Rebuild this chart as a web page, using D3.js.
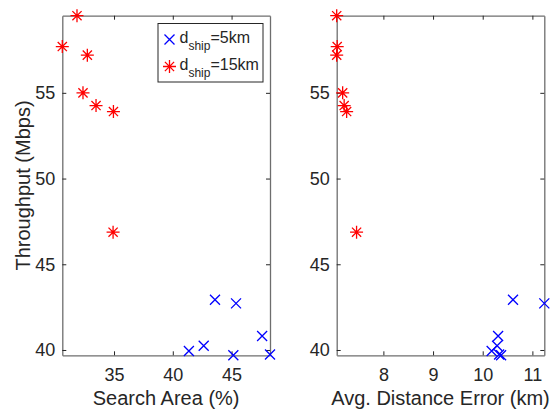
<!DOCTYPE html>
<html>
<head>
<meta charset="utf-8">
<script src="https://cdn.jsdelivr.net/npm/d3@7"></script>
<style>
  body { margin: 0; background: #fff; }
  text { font-family: "Liberation Sans", Arial, Helvetica, sans-serif; fill: #262626; }
</style>
</head>
<body>
<script>
// Global variable
const w = 554;
const h = 411;

// d_ship = 5km
const searchArea5 = [41.37, 42.63, 43.59, 45.38, 45.15, 47.60, 48.27];
const distErr5    = [10.18, 10.29, 10.61, 11.24, 10.37, 10.31, 10.33];
const thr5        = [39.94, 40.25, 42.93, 42.72, 39.69, 40.82, 39.74];

// d_ship = 15km
const searchArea15 = [31.85, 30.60, 32.73, 32.36, 33.47, 34.95, 34.92];
const distErr15    = [7.06, 7.07, 7.06, 7.18, 7.21, 7.26, 7.46];
const thr15        = [59.50, 57.70, 57.20, 55.00, 54.26, 53.91, 46.87];

const xTicksLeft = [35, 40, 45];
const xTicksRight = [8, 9, 10, 11];
const yTicks = [40, 45, 50, 55];

const yTop = 15.7, yBottom = 355.3;

let svg = d3.select("body")
            .append("svg")
                .attr("width", w)
                .attr("height", h);

svg.append("rect").attr("width", w).attr("height", h).attr("fill", "#fff");

const y = d3.scaleLinear()
        .domain(d3.extent(thr5.concat(thr15)))
        .range([yBottom, yTop]);

function starPath(r) {
    const d = r * Math.SQRT1_2;
    return `M${-r},0L${r},0M0,${-r}L0,${r}M${-d},${-d}L${d},${d}M${-d},${d}L${d},${-d}`;
}
function crossPath(r) {
    return `M${-r},${-r}L${r},${r}M${-r},${r}L${r},${-r}`;
}

function panel(xs5, xs15, x0, x1, xTicks, label) {
    const x = d3.scaleLinear()
            .domain(d3.extent(xs5.concat(xs15)))
            .range([x0, x1]);

    const g = svg.append("g");

    // box with inward ticks
    g.append("g")
        .attr("transform", "translate(0," + yBottom + ")")
        .call(d3.axisBottom(x).tickValues(xTicks).tickFormat(d3.format("d"))
            .tickSizeInner(-4).tickSizeOuter(0).tickPadding(13))
        .call(a => a.selectAll("text").attr("font-size", 18).attr("fill", "#262626"));
    g.append("g")
        .attr("transform", "translate(0," + yTop + ")")
        .call(d3.axisTop(x).tickValues(xTicks).tickSizeInner(-4).tickSizeOuter(0).tickFormat(""));
    g.append("g")
        .attr("transform", "translate(" + x0 + ",0)")
        .call(d3.axisLeft(y).tickValues(yTicks).tickFormat(d3.format("d"))
            .tickSizeInner(-4).tickSizeOuter(0).tickPadding(7))
        .call(a => a.selectAll("text").attr("font-size", 18).attr("fill", "#262626"));
    g.append("g")
        .attr("transform", "translate(" + x1 + ",0)")
        .call(d3.axisRight(y).tickValues(yTicks).tickSizeInner(-4).tickSizeOuter(0).tickFormat(""));

    g.selectAll(".domain, .tick line").attr("stroke", "#262626");
    g.selectAll(".domain").attr("stroke", "#6e6e6e").attr("stroke-width", 1.3);

    g.append("text")
        .attr("x", (x0 + x1) / 2)
        .attr("y", 405)
        .attr("text-anchor", "middle")
        .attr("font-size", 20)
        .text(label);

    g.selectAll("path.s5")
        .data(xs5.map((v, i) => [v, thr5[i]]))
        .enter()
        .append("path")
        .attr("class", "s5")
        .attr("d", crossPath(5))
        .attr("transform", d => "translate(" + x(d[0]) + "," + y(d[1]) + ")")
        .attr("stroke", "#0000ff")
        .attr("stroke-width", 1.3)
        .attr("fill", "none");

    g.selectAll("path.s15")
        .data(xs15.map((v, i) => [v, thr15[i]]))
        .enter()
        .append("path")
        .attr("class", "s15")
        .attr("d", starPath(6.5))
        .attr("transform", d => "translate(" + x(d[0]) + "," + y(d[1]) + ")")
        .attr("stroke", "#ff0000")
        .attr("stroke-width", 1.3)
        .attr("fill", "none");
}

panel(searchArea5, searchArea15, 62.3, 270, xTicksLeft, "Search Area (%)");
panel(distErr5, distErr15, 336.7, 544.3, xTicksRight, "Avg. Distance Error (km)");

// y label
svg.append("text")
    .attr("transform", "translate(30," + (yTop + yBottom) / 2 + ") rotate(-90)")
    .attr("text-anchor", "middle")
    .attr("font-size", 20)
    .text("Throughput (Mbps)");

// legend
const leg = svg.append("g");
leg.append("rect")
    .attr("x", 158).attr("y", 23.5).attr("width", 105).attr("height", 58.5)
    .attr("fill", "#fff").attr("stroke", "#262626").attr("stroke-width", 1);

const entries = [
    {label: "=5km", path: crossPath(5), color: "#0000ff", cy: 39.5},
    {label: "=15km", path: starPath(6.5), color: "#ff0000", cy: 66.5}
];
entries.forEach(e => {
    leg.append("path")
        .attr("d", e.path)
        .attr("transform", "translate(169.5," + e.cy + ")")
        .attr("stroke", e.color).attr("stroke-width", 1.3).attr("fill", "none");
    const t = leg.append("text")
        .attr("x", 179.5).attr("y", e.cy + 3)
        .attr("font-size", 16);
    t.append("tspan").text("d");
    t.append("tspan").attr("dy", 7).attr("font-size", 12).text("ship");
    t.append("tspan").attr("dy", -7).text(e.label);
});
</script>
</body>
</html>
